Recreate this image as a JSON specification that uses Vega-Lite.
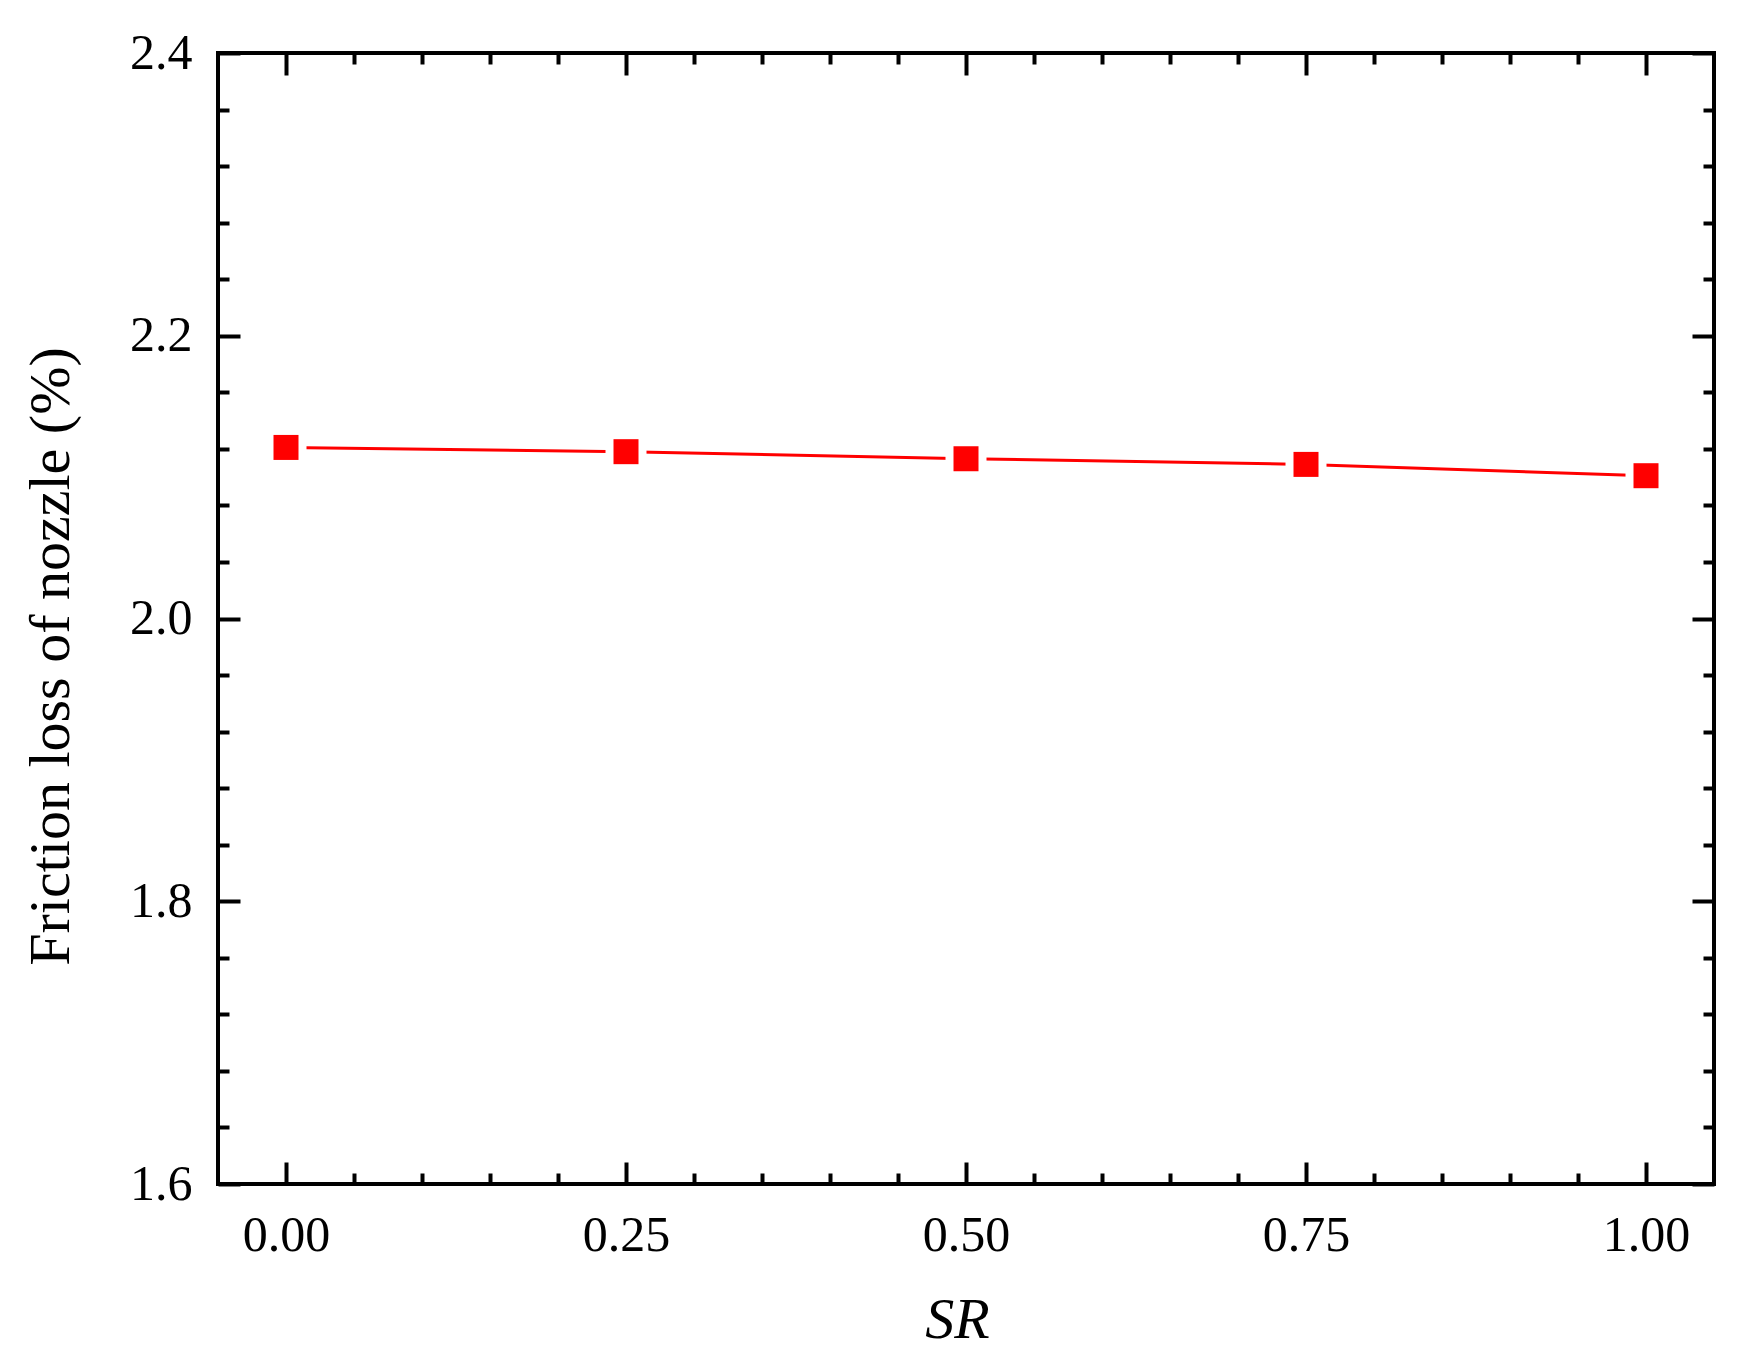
{
  "$schema": "https://vega.github.io/schema/vega-lite/v6.json",
  "width": 1496,
  "height": 1131,
  "autosize": "none",
  "padding": {"left": 218, "top": 53, "right": 33, "bottom": 185},
  "background": "white",
  "config": {
    "view": {"stroke": "black", "strokeWidth": 4},
    "axis": {
      "domain": false,
      "grid": false,
      "tickColor": "black",
      "tickWidth": 4,
      "labelFont": "Liberation Serif",
      "labelFontSize": 50,
      "labelColor": "black",
      "labelFlush": false,
      "labelOverlap": false,
      "titleFont": "Liberation Serif",
      "titleFontSize": 58,
      "titleFontWeight": "normal",
      "titleColor": "black"
    }
  },
  "data": {
    "values": [
      {"SR": 0.0, "loss": 2.121},
      {"SR": 0.25, "loss": 2.118},
      {"SR": 0.5, "loss": 2.113},
      {"SR": 0.75, "loss": 2.109},
      {"SR": 1.0, "loss": 2.101}
    ]
  },
  "resolve": {"axis": {"x": "independent", "y": "independent"}},
  "layer": [
    {
      "mark": {"type": "line", "color": "#FF0000", "strokeWidth": 3},
      "encoding": {
        "x": {
          "field": "SR", "type": "quantitative",
          "scale": {"domain": [-0.05, 1.05], "nice": false, "zero": false},
          "axis": {
            "orient": "bottom", "values": [0, 0.25, 0.5, 0.75, 1], "format": ".2f",
            "ticks": false, "tickSize": 0, "labelPadding": 66, "labelBaseline": "alphabetic",
            "title": "SR", "titleFontStyle": "italic", "titleX": 739, "titleY": 153,
            "titleBaseline": "alphabetic", "titleAnchor": null, "titleAlign": "center"
          }
        },
        "y": {
          "field": "loss", "type": "quantitative",
          "scale": {"domain": [1.6, 2.4], "nice": false, "zero": false},
          "axis": {
            "orient": "left", "values": [1.6, 1.8, 2.0, 2.2, 2.4], "format": ".1f",
            "ticks": false, "tickSize": 0, "labelPadding": 26, "labelBaseline": "middle",
            "title": "Friction loss of nozzle (%)", "titleX": -150, "titleY": 603,
            "titleBaseline": "alphabetic", "titleAngle": 270, "titleAlign": "center"
          }
        }
      }
    },
    {
      "mark": {"type": "point", "shape": "square", "filled": true, "color": "white", "size": 1681, "opacity": 1},
      "encoding": {
        "x": {
          "field": "SR", "type": "quantitative",
          "axis": {
            "orient": "bottom", "values": [0, 0.25, 0.5, 0.75, 1],
            "tickSize": -22, "labels": false, "title": null
          }
        },
        "y": {
          "field": "loss", "type": "quantitative",
          "axis": {
            "orient": "left", "values": [1.6, 1.8, 2.0, 2.2, 2.4],
            "tickSize": -22, "labels": false, "title": null
          }
        }
      }
    },
    {
      "mark": {"type": "point", "shape": "square", "filled": true, "color": "#FF0000", "size": 625, "opacity": 1},
      "encoding": {
        "x": {
          "field": "SR", "type": "quantitative",
          "axis": {
            "orient": "bottom",
            "values": [0.05, 0.1, 0.15, 0.2, 0.3, 0.35, 0.4, 0.45, 0.55, 0.6, 0.65, 0.7, 0.8, 0.85, 0.9, 0.95],
            "tickSize": -11, "labels": false, "title": null
          }
        },
        "y": {
          "field": "loss", "type": "quantitative",
          "axis": {
            "orient": "left",
            "values": [1.64, 1.68, 1.72, 1.76, 1.84, 1.88, 1.92, 1.96, 2.04, 2.08, 2.12, 2.16, 2.24, 2.28, 2.32, 2.36],
            "tickSize": -11, "labels": false, "title": null
          }
        }
      }
    },
    {
      "mark": {"type": "point", "shape": "square", "filled": true, "opacity": 0, "size": 10},
      "encoding": {
        "x": {
          "field": "SR", "type": "quantitative",
          "axis": {
            "orient": "top", "values": [0, 0.25, 0.5, 0.75, 1],
            "tickSize": -22, "labels": false, "title": null
          }
        },
        "y": {
          "field": "loss", "type": "quantitative",
          "axis": {
            "orient": "right", "values": [1.6, 1.8, 2.0, 2.2, 2.4],
            "tickSize": -22, "labels": false, "title": null
          }
        }
      }
    },
    {
      "mark": {"type": "point", "shape": "square", "filled": true, "opacity": 0, "size": 10},
      "encoding": {
        "x": {
          "field": "SR", "type": "quantitative",
          "axis": {
            "orient": "top",
            "values": [0.05, 0.1, 0.15, 0.2, 0.3, 0.35, 0.4, 0.45, 0.55, 0.6, 0.65, 0.7, 0.8, 0.85, 0.9, 0.95],
            "tickSize": -11, "labels": false, "title": null
          }
        },
        "y": {
          "field": "loss", "type": "quantitative",
          "axis": {
            "orient": "right",
            "values": [1.64, 1.68, 1.72, 1.76, 1.84, 1.88, 1.92, 1.96, 2.04, 2.08, 2.12, 2.16, 2.24, 2.28, 2.32, 2.36],
            "tickSize": -11, "labels": false, "title": null
          }
        }
      }
    }
  ]
}
